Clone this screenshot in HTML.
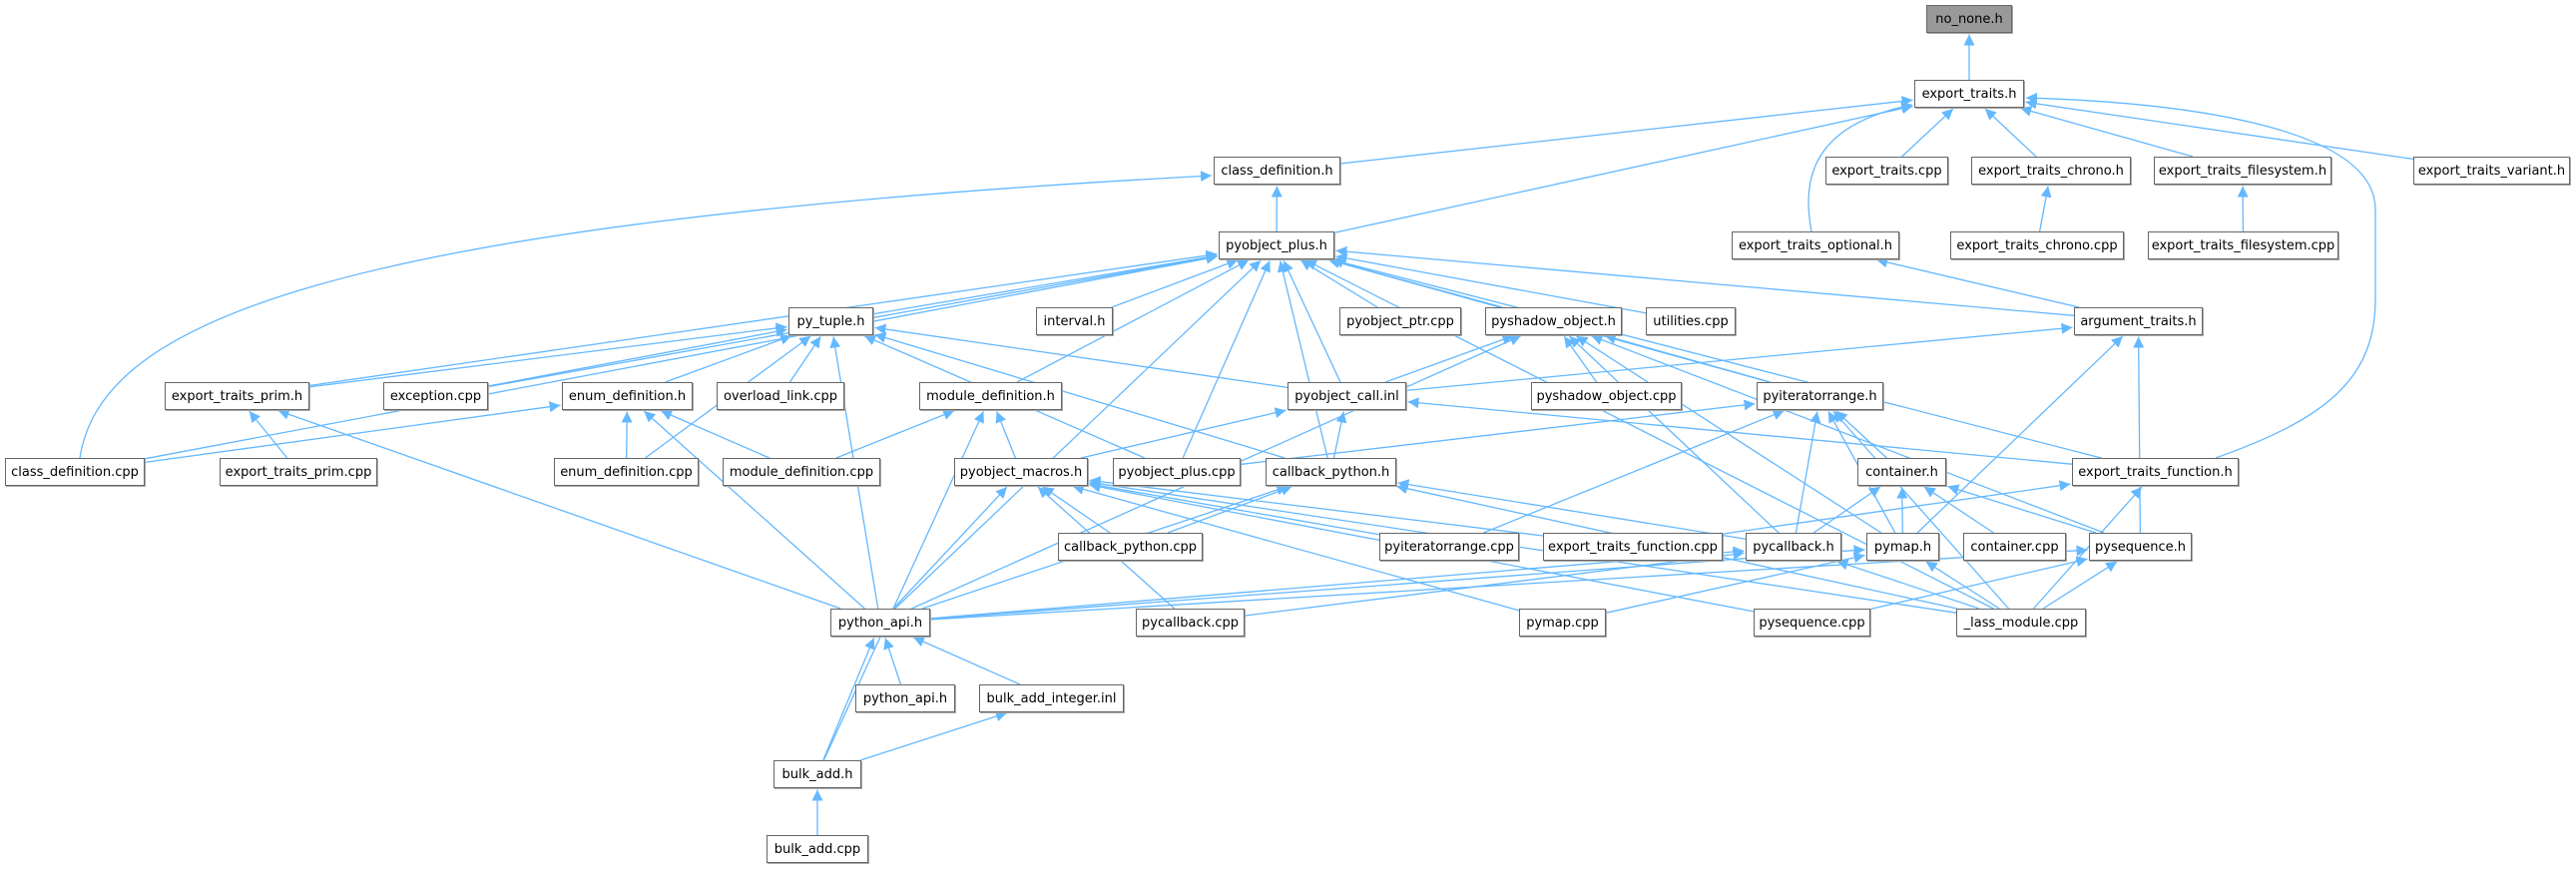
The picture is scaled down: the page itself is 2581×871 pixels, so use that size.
<!DOCTYPE html>
<html><head><meta charset="utf-8">
<style>
html,body{margin:0;padding:0;background:#fff;}
#c{position:relative;width:2581px;height:871px;overflow:hidden;}
.n{position:absolute;box-sizing:border-box;border:1px solid #666;background:#fff;font-family:"DejaVu Sans","Liberation Sans",sans-serif;font-size:13px;color:#000;display:flex;align-items:center;justify-content:center;white-space:nowrap;box-shadow:1px 1px 0 #aaa;}
svg{position:absolute;left:0;top:0;}
</style></head><body>
<div id="c">
<svg id="s" width="2581" height="871"><defs><marker id="a" viewBox="0 0 10 10" refX="10" refY="5" markerWidth="11" markerHeight="11" markerUnits="userSpaceOnUse" orient="auto"><path d="M0,0L10,5L0,10z" fill="#63b8ff"/></marker></defs></svg>
<div class="n" id="no_none" style="left:1930px;top:5px;width:86px;height:28px;background:#999">no_none.h</div>
<div class="n" id="et" style="left:1918px;top:80px;width:110px;height:28px">export_traits.h</div>
<div class="n" id="etcpp" style="left:1829px;top:157px;width:123px;height:28px">export_traits.cpp</div>
<div class="n" id="etch" style="left:1975px;top:157px;width:160px;height:28px">export_traits_chrono.h</div>
<div class="n" id="etfs" style="left:2158px;top:157px;width:178px;height:28px">export_traits_filesystem.h</div>
<div class="n" id="etvar" style="left:2418px;top:157px;width:157px;height:28px">export_traits_variant.h</div>
<div class="n" id="cdh" style="left:1216px;top:157px;width:127px;height:28px">class_definition.h</div>
<div class="n" id="etopt" style="left:1735px;top:232px;width:168px;height:28px">export_traits_optional.h</div>
<div class="n" id="etchcpp" style="left:1954px;top:232px;width:174px;height:28px">export_traits_chrono.cpp</div>
<div class="n" id="etfscpp" style="left:2152px;top:232px;width:191px;height:28px">export_traits_filesystem.cpp</div>
<div class="n" id="pop" style="left:1221px;top:232px;width:116px;height:28px">pyobject_plus.h</div>
<div class="n" id="pyt" style="left:790px;top:308px;width:85px;height:28px">py_tuple.h</div>
<div class="n" id="intv" style="left:1038px;top:308px;width:77px;height:28px">interval.h</div>
<div class="n" id="ppcpp" style="left:1342px;top:308px;width:122px;height:28px">pyobject_ptr.cpp</div>
<div class="n" id="psh" style="left:1488px;top:308px;width:137px;height:28px">pyshadow_object.h</div>
<div class="n" id="util" style="left:1649px;top:308px;width:90px;height:28px">utilities.cpp</div>
<div class="n" id="argt" style="left:2078px;top:308px;width:129px;height:28px">argument_traits.h</div>
<div class="n" id="etprim" style="left:165px;top:383px;width:145px;height:28px">export_traits_prim.h</div>
<div class="n" id="exc" style="left:384px;top:383px;width:105px;height:28px">exception.cpp</div>
<div class="n" id="edh" style="left:563px;top:383px;width:131px;height:28px">enum_definition.h</div>
<div class="n" id="ovl" style="left:718px;top:383px;width:128px;height:28px">overload_link.cpp</div>
<div class="n" id="mdh" style="left:921px;top:383px;width:143px;height:28px">module_definition.h</div>
<div class="n" id="pci" style="left:1290px;top:383px;width:119px;height:28px">pyobject_call.inl</div>
<div class="n" id="pshcpp" style="left:1534px;top:383px;width:151px;height:28px">pyshadow_object.cpp</div>
<div class="n" id="pir" style="left:1760px;top:383px;width:127px;height:28px">pyiteratorrange.h</div>
<div class="n" id="cdcpp" style="left:5px;top:459px;width:140px;height:28px">class_definition.cpp</div>
<div class="n" id="etpcpp" style="left:220px;top:459px;width:158px;height:28px">export_traits_prim.cpp</div>
<div class="n" id="edcpp" style="left:555px;top:459px;width:145px;height:28px">enum_definition.cpp</div>
<div class="n" id="mdcpp" style="left:724px;top:459px;width:158px;height:28px">module_definition.cpp</div>
<div class="n" id="pmac" style="left:956px;top:459px;width:134px;height:28px">pyobject_macros.h</div>
<div class="n" id="popcpp" style="left:1115px;top:459px;width:128px;height:28px">pyobject_plus.cpp</div>
<div class="n" id="cbh" style="left:1268px;top:459px;width:131px;height:28px">callback_python.h</div>
<div class="n" id="conh" style="left:1861px;top:459px;width:89px;height:28px">container.h</div>
<div class="n" id="etfn" style="left:2076px;top:459px;width:167px;height:28px">export_traits_function.h</div>
<div class="n" id="cbcpp" style="left:1060px;top:534px;width:145px;height:28px">callback_python.cpp</div>
<div class="n" id="pircpp" style="left:1382px;top:534px;width:140px;height:28px">pyiteratorrange.cpp</div>
<div class="n" id="etfncpp" style="left:1546px;top:534px;width:180px;height:28px">export_traits_function.cpp</div>
<div class="n" id="pcbh" style="left:1749px;top:534px;width:96px;height:28px">pycallback.h</div>
<div class="n" id="pmh" style="left:1870px;top:534px;width:73px;height:28px">pymap.h</div>
<div class="n" id="concpp" style="left:1967px;top:534px;width:103px;height:28px">container.cpp</div>
<div class="n" id="pseqh" style="left:2093px;top:534px;width:103px;height:28px">pysequence.h</div>
<div class="n" id="pah" style="left:832px;top:610px;width:100px;height:28px">python_api.h</div>
<div class="n" id="pcbcpp" style="left:1138px;top:610px;width:109px;height:28px">pycallback.cpp</div>
<div class="n" id="pmcpp" style="left:1522px;top:610px;width:87px;height:28px">pymap.cpp</div>
<div class="n" id="pseqcpp" style="left:1757px;top:610px;width:117px;height:28px">pysequence.cpp</div>
<div class="n" id="lass" style="left:1960px;top:610px;width:130px;height:28px">_lass_module.cpp</div>
<div class="n" id="pah2" style="left:857px;top:686px;width:100px;height:28px">python_api.h</div>
<div class="n" id="bai" style="left:981px;top:686px;width:145px;height:28px">bulk_add_integer.inl</div>
<div class="n" id="bah" style="left:775px;top:762px;width:88px;height:28px">bulk_add.h</div>
<div class="n" id="bacpp" style="left:768px;top:837px;width:102px;height:28px">bulk_add.cpp</div>
</div>
<script>
var E=[
["et","no_none"],["cdh","et"],["pop","et"],["etopt","et","M1815,232 C1805,180 1815,125 1916,105"],["etcpp","et"],["etch","et"],["etfs","et"],["etvar","et"],["etfn","et","M2220,459 C2330,420 2380,380 2380,300 L2380,210 C2380,130 2200,103 2030,98"],
["etchcpp","etch"],["etfscpp","etfs"],["cdcpp","cdh","M80,459 C100,330 300,225 1214,176"],["pop","cdh"],["argt","etopt"],["argt","pop"],
["pyt","pop"],["intv","pop"],["ppcpp","pop"],["psh","pop"],["util","pop"],["pir","pop"],["etfn","pop"],["lass","pop"],["mdh","pop"],["pci","pop"],["popcpp","pop"],["cbh","pop"],["exc","pop"],["etprim","pop"],["cdcpp","pop"],["pah","pop"],
["etprim","pyt"],["exc","pyt"],["edh","pyt"],["ovl","pyt"],["edcpp","pyt"],["pah","pyt"],["pci","pyt"],["popcpp","pyt"],["cbh","pyt"],
["etpcpp","etprim"],["pah","etprim"],["cdcpp","edh"],["edcpp","edh"],["mdcpp","edh"],["pah","edh"],
["mdcpp","mdh"],["pmac","mdh"],["bah","mdh"],
["pci","psh"],["pshcpp","psh"],["pir","psh"],["pcbh","psh"],["pmh","psh"],["pah","psh"],["pseqh","psh"],
["pci","argt"],["pmh","argt"],["pseqh","argt"],
["pmac","pci"],["cbh","pci"],["etfn","pci"],
["popcpp","pir"],["pircpp","pir"],["conh","pir"],["pcbh","pir"],["pmh","pir"],["lass","pir"],
["pcbh","conh"],["pmh","conh"],["concpp","conh"],["pseqh","conh"],
["cbcpp","pmac"],["pircpp","pmac"],["etfncpp","pmac"],["pah","pmac"],["pcbcpp","pmac"],["pmcpp","pmac"],["pseqcpp","pmac"],["lass","pmac"],
["cbcpp","cbh"],["pcbh","cbh"],["pah","cbh"],["lass","cbh"],
["etfncpp","etfn"],["lass","etfn"],
["pah","pcbh"],["pcbcpp","pcbh"],["lass","pcbh"],
["pah","pmh"],["pmcpp","pmh"],["lass","pmh"],
["pah","pseqh"],["pseqcpp","pseqh"],["lass","pseqh"],
["pah2","pah"],["bai","pah"],["bah","pah"],["bah","bai"],["bacpp","bah"]
];
function g(id){var e=document.getElementById(id);var o={x:e.offsetLeft,y:e.offsetTop,w:e.offsetWidth,h:e.offsetHeight};o.cx=o.x+o.w/2;o.cy=o.y+o.h/2;return o;}
function clip(b,dx,dy){
 var tx=dx!==0?(b.w/2)/Math.abs(dx):1e9, ty=dy!==0?(b.h/2)/Math.abs(dy):1e9;
 var t=Math.min(tx,ty);return [b.cx+dx*t,b.cy+dy*t];
}
var s=document.getElementById("s"),NS="http://www.w3.org/2000/svg";
E.forEach(function(p){
 var d;
 if(p[2]){d=p[2];}else{
 var a=g(p[0]),b=g(p[1]);
 var dx=b.cx-a.cx,dy=b.cy-a.cy;
 var p1=clip(a,dx,dy),p2=clip(b,-dx,-dy);
 var L=Math.hypot(p2[0]-p1[0],p2[1]-p1[1])||1;
 p2=[p2[0]-(p2[0]-p1[0])/L*1.5,p2[1]-(p2[1]-p1[1])/L*1.5];
 d="M"+p1[0]+","+p1[1]+"L"+p2[0]+","+p2[1];}
 var e=document.createElementNS(NS,"path");
 e.setAttribute("d",d);
 e.setAttribute("fill","none");e.setAttribute("stroke","#63b8ff");e.setAttribute("stroke-width","1.3");e.setAttribute("marker-end","url(#a)");
 s.appendChild(e);
});
</script>
</body></html>
